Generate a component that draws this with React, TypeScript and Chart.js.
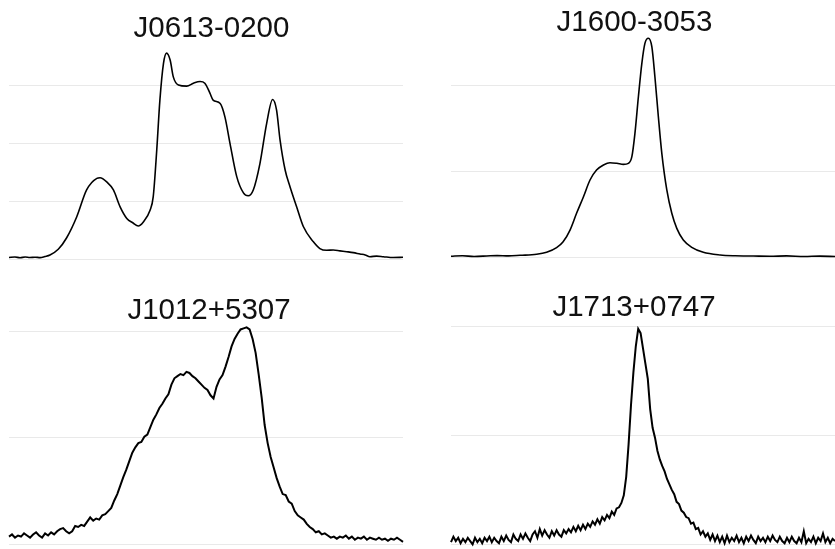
import { useEffect, useRef } from "react";
import { Chart, registerables } from "chart.js";

Chart.register(...registerables);

// Pulsar names shown above each profile
const TITLES = ["J0613-0200", "J1600-3053", "J1012+5307", "J1713+0747"];

// J0613-0200: pulse phase / intensity pairs
const J0613_PHASE = [
  0, 0.015, 0.028, 0.041, 0.053, 0.066, 0.079, 0.091, 0.104,
  0.125, 0.146, 0.172, 0.197, 0.223, 0.231, 0.248, 0.265, 0.282, 0.299,
  0.315, 0.328, 0.341, 0.358, 0.366, 0.375, 0.383, 0.392, 0.4, 0.409,
  0.417, 0.43, 0.451, 0.468, 0.485, 0.497, 0.51, 0.518, 0.536, 0.548,
  0.561, 0.578, 0.595, 0.607, 0.62, 0.637, 0.654, 0.669, 0.679, 0.688,
  0.701, 0.713, 0.73, 0.747, 0.772, 0.789, 0.806, 0.823, 0.84, 0.857,
  0.874, 0.891, 0.904, 0.916, 0.933, 0.95, 0.975, 1.0,
];
const J0613_FLUX = [
  0.026, 0.034, 0.021, 0.034, 0.026, 0.031, 0.024, 0.043, 0.069,
  0.167, 0.362, 0.729, 1.19, 1.39, 1.4, 1.33, 1.19, 0.9, 0.7,
  0.62, 0.57, 0.64, 0.84, 1.07, 1.88, 2.74, 3.37, 3.55, 3.43,
  3.14, 3.0, 2.98, 3.03, 3.06, 3.03, 2.86, 2.74, 2.68, 2.45,
  1.99, 1.42, 1.14, 1.09, 1.19, 1.65, 2.34, 2.75, 2.57, 2.05,
  1.53, 1.25, 0.9, 0.56, 0.3, 0.18, 0.15, 0.155, 0.14, 0.126,
  0.11, 0.086, 0.07, 0.04, 0.05, 0.04, 0.025, 0.029,
];

// J1600-3053: pulse phase / intensity pairs
const J1600_PHASE = [
  0, 0.03, 0.06, 0.093, 0.12, 0.15, 0.18,
  0.223, 0.249, 0.275, 0.292, 0.31, 0.327, 0.345, 0.362, 0.379, 0.397,
  0.414, 0.432, 0.449, 0.462, 0.471, 0.479, 0.488, 0.497, 0.505, 0.514,
  0.523, 0.531, 0.54, 0.549, 0.562, 0.575, 0.588, 0.605, 0.627, 0.657,
  0.701, 0.74, 0.787, 0.83, 0.874, 0.92, 0.96, 1.0,
];
const J1600_FLUX = [
  0.012, 0.018, 0.01, 0.015, 0.02, 0.016, 0.023,
  0.035, 0.058, 0.112, 0.181, 0.317, 0.512, 0.705, 0.899, 1.015, 1.073,
  1.1, 1.093, 1.081, 1.093, 1.17, 1.442, 1.867, 2.256, 2.488, 2.547,
  2.449, 2.1, 1.635, 1.209, 0.783, 0.512, 0.337, 0.201, 0.116, 0.058,
  0.027, 0.018, 0.015, 0.012, 0.016, 0.01, 0.014, 0.009,
];

// J1012+5307: intensity in evenly spaced phase bins
const J1012_FLUX = [
  0.07, 0.09, 0.06, 0.08, 0.07, 0.1, 0.08, 0.06, 0.09, 0.11,
  0.08, 0.06, 0.1, 0.08, 0.11, 0.09, 0.12, 0.14, 0.15, 0.12,
  0.1, 0.12, 0.17, 0.16, 0.18, 0.17, 0.21, 0.25, 0.22, 0.24,
  0.23, 0.27, 0.28, 0.31, 0.34, 0.41, 0.47, 0.55, 0.63, 0.7,
  0.78, 0.86, 0.91, 0.95, 0.96, 1.01, 1.03, 1.1, 1.17, 1.22,
  1.28, 1.32, 1.37, 1.41, 1.5, 1.56, 1.58, 1.6, 1.59, 1.62,
  1.61, 1.58, 1.56, 1.53, 1.5, 1.47, 1.45, 1.4, 1.37, 1.48,
  1.55, 1.59, 1.67, 1.76, 1.86, 1.93, 1.98, 2.02, 2.03, 2.04,
  2.02, 1.93, 1.8, 1.6, 1.38, 1.12, 0.95, 0.82, 0.72, 0.62,
  0.54, 0.47, 0.46, 0.4, 0.38, 0.31, 0.27, 0.25, 0.23, 0.19,
  0.16, 0.14, 0.11, 0.12, 0.09, 0.1, 0.08, 0.06, 0.07, 0.05,
  0.07, 0.06, 0.08, 0.05, 0.07, 0.04, 0.06, 0.05, 0.07, 0.04,
  0.06, 0.05, 0.04, 0.06, 0.04, 0.05, 0.03, 0.05, 0.04, 0.06,
  0.04, 0.02,
];

// J1713+0747: intensity in evenly spaced phase bins
const J1713_FLUX = [
  0.02, 0.07, 0.03, 0.06, 0.01, 0.05, 0.02, 0.06, 0.03, 0.0,
  0.06, 0.02, 0.05, 0.01, 0.06, 0.03, 0.07, 0.02, 0.06, 0.03,
  0.01, 0.07, 0.03, 0.08, 0.04, 0.02, 0.09, 0.05, 0.03, 0.09,
  0.05, 0.1, 0.06, 0.03, 0.09, 0.12, 0.06, 0.14, 0.08, 0.13,
  0.09, 0.06, 0.12, 0.08, 0.13, 0.09, 0.07, 0.13, 0.1, 0.14,
  0.11, 0.16, 0.12, 0.17, 0.13, 0.18, 0.14, 0.19, 0.16, 0.21,
  0.18, 0.23, 0.19, 0.25, 0.22, 0.27, 0.24, 0.3, 0.27, 0.33,
  0.34, 0.38, 0.45, 0.62, 0.92, 1.28, 1.58, 1.82, 1.98, 1.94,
  1.8, 1.66, 1.52, 1.24, 1.07, 0.98, 0.86, 0.78, 0.72, 0.67,
  0.6, 0.55, 0.5, 0.46, 0.39, 0.37, 0.31, 0.29, 0.25, 0.24,
  0.19, 0.2, 0.14, 0.15, 0.09, 0.12, 0.07, 0.1, 0.04, 0.09,
  0.03, 0.08, 0.02, 0.07, 0.01, 0.08, 0.02, 0.06, 0.03, 0.08,
  0.02, 0.06, 0.01, 0.07, 0.03, 0.08, 0.04, 0.01, 0.07, 0.03,
  0.06, 0.02, 0.07, 0.03, 0.08, 0.04, 0.02, 0.07, 0.03, 0.01,
  0.06, 0.02, 0.07, 0.03, 0.01, 0.06, 0.02, 0.12, 0.01, 0.05,
  0.02, 0.07, 0.01, 0.06, 0.03, 0.1, 0.02, 0.06, 0.01, 0.05,
  0.03,
];

// evenly spaced phase bins for the two binned profiles
const J1012_PHASE = J1012_FLUX.map((_, i) => i / (J1012_FLUX.length - 1));
const J1713_PHASE = J1713_FLUX.map((_, i) => i / (J1713_FLUX.length - 1));

const TITLE_FONT = "'Liberation Sans', Arial, Helvetica, sans-serif";
const GRID_COLOR = "#e9e9e9";

interface PanelSpec {
  title: string;
  phase: number[];
  flux: number[];
  box: { left: number; top: number; width: number; height: number };
  axisLeft: number;
  axisRight: number;
  padBottom: number;
  titleTop: number;
  titleBottom: number;
  yMax: number;
  lineWidth: number;
  smooth: boolean;
}

const PANELS: PanelSpec[] = [
  {
    title: TITLES[0],
    phase: J0613_PHASE,
    flux: J0613_FLUX,
    box: { left: 0, top: 0, width: 423, height: 275 },
    axisLeft: 9,
    axisRight: 20,
    padBottom: 16,
    titleTop: 11.3,
    titleBottom: -2.7,
    yMax: 3.707,
    lineWidth: 1.6,
    smooth: true,
  },
  {
    title: TITLES[1],
    phase: J1600_PHASE,
    flux: J1600_FLUX,
    box: { left: 434, top: 0, width: 401, height: 275 },
    axisLeft: 17,
    axisRight: 0,
    padBottom: 17.7,
    titleTop: 5.6,
    titleBottom: -7,
    yMax: 2.597,
    lineWidth: 1.6,
    smooth: true,
  },
  {
    title: TITLES[2],
    phase: J1012_PHASE,
    flux: J1012_FLUX,
    box: { left: 0, top: 275, width: 418, height: 274 },
    axisLeft: 9,
    axisRight: 15,
    padBottom: 5,
    titleTop: 17.8,
    titleBottom: -6.2,
    yMax: 2.09,
    lineWidth: 2,
    smooth: false,
  },
  {
    title: TITLES[3],
    phase: J1713_PHASE,
    flux: J1713_FLUX,
    box: { left: 433, top: 275, width: 402, height: 274 },
    axisLeft: 18,
    axisRight: 0,
    padBottom: 4.7,
    titleTop: 14.8,
    titleBottom: -4.2,
    yMax: 2.052,
    lineWidth: 2,
    smooth: false,
  },
];

function ProfilePanel({ spec }: { spec: PanelSpec }) {
  const canvasRef = useRef<HTMLCanvasElement | null>(null);

  useEffect(() => {
    const canvas = canvasRef.current;
    if (!canvas) return;
    const points = spec.phase.map((x, i) => ({ x, y: spec.flux[i] }));
    const chart = new Chart(canvas, {
      type: "line",
      data: {
        datasets: [
          {
            data: points,
            borderColor: "#000000",
            borderWidth: spec.lineWidth,
            pointRadius: 0,
            fill: false,
            cubicInterpolationMode: spec.smooth ? "monotone" : "default",
            tension: 0,
            clip: false,
          },
        ],
      },
      options: {
        animation: false,
        responsive: false,
        devicePixelRatio: 1,
        layout: { padding: { top: 0, left: 0, right: 0, bottom: spec.padBottom } },
        plugins: {
          legend: { display: false },
          tooltip: { enabled: false },
          title: {
            display: true,
            text: spec.title,
            color: "#111111",
            font: { family: TITLE_FONT, size: 29.5, weight: "normal", lineHeight: 1.2 },
            padding: { top: spec.titleTop, bottom: spec.titleBottom },
          },
        },
        scales: {
          x: { type: "linear", display: false, min: 0, max: 1 },
          y: {
            type: "linear",
            position: "left",
            min: 0,
            max: spec.yMax,
            ticks: { display: false, stepSize: 1, includeBounds: false },
            grid: { color: GRID_COLOR, lineWidth: 1, drawTicks: false },
            border: { display: false },
            afterFit: (scale: any) => {
              scale.width = spec.axisLeft;
            },
          },
          y2: {
            type: "linear",
            position: "right",
            display: spec.axisRight > 0,
            ticks: { display: false },
            grid: { display: false, drawTicks: false },
            border: { display: false },
            afterFit: (scale: any) => {
              scale.width = spec.axisRight;
            },
          },
        },
      },
    });
    return () => chart.destroy();
  }, [spec]);

  return (
    <canvas
      ref={canvasRef}
      width={spec.box.width}
      height={spec.box.height}
      style={{
        position: "absolute",
        left: spec.box.left,
        top: spec.box.top,
        width: spec.box.width,
        height: spec.box.height,
      }}
    />
  );
}

export default function App() {
  return (
    <div
      style={{
        position: "fixed",
        left: 0,
        top: 0,
        width: 835,
        height: 549,
        overflow: "hidden",
        background: "#ffffff",
      }}
    >
      {PANELS.map((p) => (
        <ProfilePanel key={p.title} spec={p} />
      ))}
    </div>
  );
}
